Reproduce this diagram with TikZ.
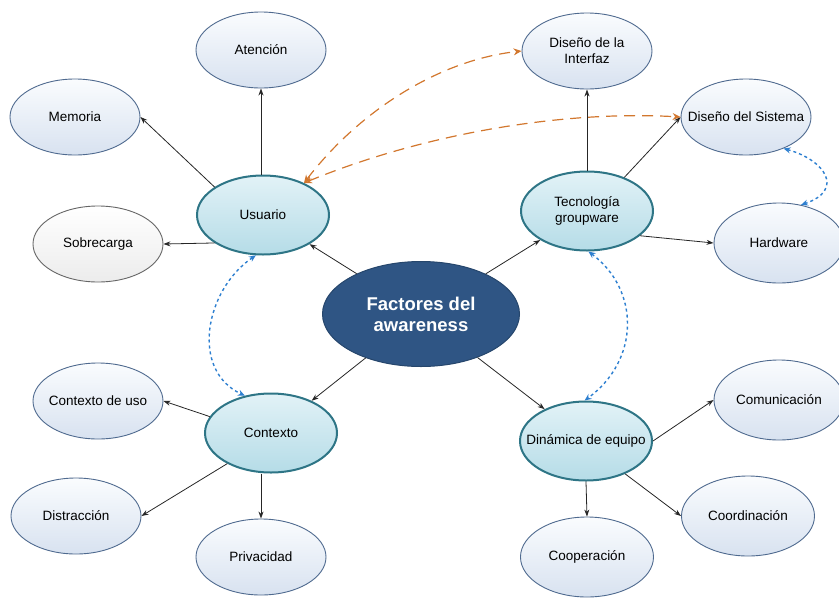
\documentclass[tikz,border=0pt]{standalone}
\usepackage{fontspec}
\setmainfont{Liberation Sans}
\usetikzlibrary{shapes.geometric,arrows.meta}
\definecolor{leafline}{HTML}{4F6A8F}
\definecolor{leaftop}{HTML}{FAFCFE}
\definecolor{leafbot}{HTML}{D8E2F0}
\definecolor{midline}{HTML}{2E7586}
\definecolor{midtop}{HTML}{E2F2F7}
\definecolor{midbot}{HTML}{B5DCE7}
\definecolor{corefill}{HTML}{2F5584}
\definecolor{coreline}{HTML}{26466C}
\definecolor{orangeln}{HTML}{D2772E}
\definecolor{blueln}{HTML}{2D7FD0}
\tikzset{
  leaf/.style={ellipse,draw=leafline,line width=0.9pt,top color=leaftop,bottom color=leafbot,
    minimum width=130pt,minimum height=76pt,inner ysep=0pt,inner xsep=-14pt,align=center,font=\fontsize{13.5}{16}\selectfont},
  greyleaf/.style={leaf,draw=gray!80!black,top color=white,bottom color=gray!15},
  mid/.style={ellipse,draw=midline,line width=2pt,top color=midtop,bottom color=midbot,
    minimum width=132pt,minimum height=79pt,inner ysep=0pt,inner xsep=-14pt,align=center,font=\fontsize{13.5}{16}\selectfont},
  core/.style={ellipse,draw=coreline,line width=1pt,fill=corefill,text=white,
    minimum width=197pt,minimum height=105pt,inner sep=0pt,align=center,font=\bfseries\fontsize{18.5}{21}\selectfont},
  link/.style={draw=black!85,line width=0.8pt,-{Stealth[length=7pt,width=5pt]}},
  bluelink/.style={draw=blueln,line width=1.4pt,dash pattern=on 3pt off 3pt,{Stealth[length=7pt,width=6pt]}-{Stealth[length=7pt,width=6pt]}},
  orangelink/.style={draw=orangeln,line width=1.2pt,dash pattern=on 11pt off 7pt,{Stealth[length=8pt,width=7pt,open]}-{Stealth[length=8pt,width=7pt]}}
}
\begin{document}
\begin{tikzpicture}[x=1pt,y=-1pt]
\useasboundingbox (0,0) rectangle (839,598);
\node[core] (core) at (421,314) {Factores del\\awareness};
\node[mid] (usu) at (263,215) {Usuario};
\node[mid] (tec) at (587,211) {Tecnología\\groupware};
\node[mid] (con) at (271,433) {Contexto};
\node[mid] (din) at (586,441) {Dinámica de equipo};
\node[leaf] (ate) at (261,50) {Atención};
\node[leaf] (mem) at (75,117) {Memoria};
\node[greyleaf] (sob) at (98,244) {Sobrecarga};
\node[leaf] (cdu) at (98,401) {Contexto de uso};
\node[leaf] (dis) at (76,516) {Distracción};
\node[leaf] (pri) at (261,557) {Privacidad};
\node[leaf] (dif) at (587,51) {Diseño de la\\Interfaz};
\node[leaf] (dsi) at (746,117) {Diseño del Sistema};
\node[leaf,minimum height=80pt] (har) at (779,243) {Hardware};
\node[leaf,minimum height=80pt] (com) at (779,400) {Comunicación};
\node[leaf,minimum width=133pt,minimum height=80pt] (coo) at (748,516) {Coordinación};
\node[leaf,minimum width=133pt,minimum height=80pt] (cop) at (587,557) {Cooperación};
% black connectors
\draw[link] (ate.south |- usu.north) -- (ate.south);
\draw[link] (usu.150) -- (mem.east);
\draw[link] (usu.-150) -- (sob.east);
\draw[link] (core) -- (usu);
\draw[link] (core) -- (tec);
\draw[link] (core) -- (con);
\draw[link] (core) -- (din);
\draw[link] (tec.north) -- (dif.south);
\draw[link] (tec.42) -- (dsi.west);
\draw[link] (tec.-25) -- (har.west);
\draw[link] (con.165) -- (cdu.east);
\draw[link] (con.-145) -- (dis.east);
\draw[link] (pri.north |- con.south) -- (pri.north);
\draw[link] (din.east) -- (com.west);
\draw[link] (din.-40) -- (coo.west);
\draw[link] (din.south) -- (cop.north);
% blue dotted
\draw[bluelink] (usu.-100) .. controls (205,290) and (190,370) .. (con.125);
\draw[bluelink] (tec.-88) .. controls (640,290) and (640,360) .. (din.92);
\draw[bluelink] (dsi.-40) .. controls (825,160) and (845,190) .. (har.60);
% orange dashed
\draw[orangelink] (usu.38) .. controls (360,110) and (440,60) .. (dif.west);
\draw[orangelink] (usu.38) .. controls (420,135) and (560,110) .. (dsi.west);
\end{tikzpicture}
\end{document}
